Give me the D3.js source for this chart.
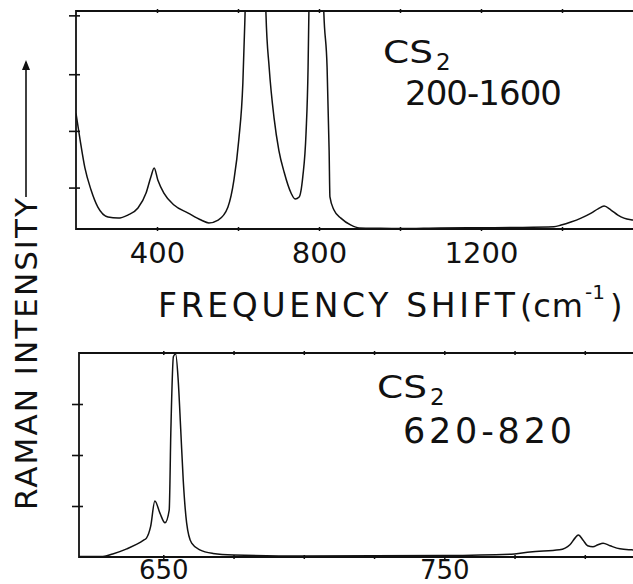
<!DOCTYPE html>
<html>
<head>
<meta charset="utf-8">
<script src="https://cdn.jsdelivr.net/npm/d3@7"></script>
<style>
  body { margin: 0; background: #fff; }
  svg { display: block; }
  text { font-family: "DejaVu Sans", sans-serif; fill: #111; }
</style>
</head>
<body>
<svg id="chart" width="633" height="584"></svg>
<script>
// upper spectrum, 200-1600 cm-1 (intensity in arbitrary units, frame top = 100)
const wideShift = [200, 210, 222, 237, 254, 279, 304, 328, 353, 373, 385, 393, 402, 417, 442, 477, 509, 528, 551, 575, 590, 602, 612, 617, 622, 640, 655, 662, 669, 677, 689, 701, 714, 731, 741, 751, 760, 768, 773, 775, 780, 795, 805, 812, 820, 825, 827, 837, 854, 879, 899, 950, 1000, 1100, 1200, 1300, 1380, 1398, 1422, 1447, 1472, 1489, 1504, 1521, 1538, 1553, 1575, 1600];
const wideIntensity = [53, 41, 28, 18, 10, 5.5, 5, 6.4, 9.6, 16.5, 24, 28, 22.5, 16.5, 11, 7.3, 4.1, 2.8, 4.1, 10, 22.5, 41, 67, 96, 130, 250, 300, 200, 99, 74, 51, 36, 26, 16.5, 13.8, 14.7, 24, 44, 74, 99, 150, 350, 150, 99, 74, 36, 14.7, 8.7, 5, 1.8, 0.5, 0.3, 0.2, 0.5, 0.6, 0.7, 1.0, 1.8, 3.2, 5, 7.3, 9.2, 10.5, 8.7, 6.4, 5, 4.1, 3.5];
const wideXTicks = [400, 600, 800, 1000, 1200, 1400];
const wideXLabels = [400, 800, 1200];
const wideYTicks = [19, 45, 71, 98];

// lower spectrum, 620-820 cm-1
const narrowShift = [620, 628.5, 632, 637, 643, 644, 645.5, 647, 648.8, 650.6, 652.1, 652.7, 653.6, 654.4, 655.3, 656.2, 657.1, 658.3, 660.1, 663, 667.7, 675, 700, 750, 775, 780.5, 791, 794.7, 796.5, 797.7, 799.4, 801, 802.9, 804.7, 806.5, 809, 812.5, 816.7, 820];
const narrowIntensity = [0.01, 0.01, 0.06, 0.16, 0.33, 0.37, 0.6, 1.1, 0.86, 0.67, 0.92, 2.5, 3.93, 3.98, 3.47, 2.5, 1.5, 0.67, 0.27, 0.14, 0.07, 0.04, 0.02, 0.03, 0.06, 0.1, 0.14, 0.24, 0.37, 0.43, 0.33, 0.22, 0.2, 0.24, 0.27, 0.22, 0.16, 0.14, 0.13];
const narrowXTicks = [650, 675, 700, 725, 750, 775, 800];
const narrowXLabels = [650, 750];
const narrowYTicks = [1, 2, 3];

const svg = d3.select("#chart");
svg.append("rect").attr("width", 633).attr("height", 584).attr("fill", "#fff");

function panel(id, xs, ys, shift, intensity, xTicks, xLabels, yTicks, labelY, labelSize) {
  const [x0, x1] = xs.range();
  const [yb, yt] = ys.range();
  const g = svg.append("g");

  g.append("clipPath").attr("id", id)
    .append("rect").attr("x", x0).attr("y", yt).attr("width", x1 - x0).attr("height", yb - yt);

  const line = d3.line()
    .x((d, i) => xs(shift[i]))
    .y(d => ys(d))
    .curve(d3.curveMonotoneX);

  g.append("path")
    .datum(intensity)
    .attr("clip-path", `url(#${id})`)
    .attr("fill", "none")
    .attr("stroke", "#111")
    .attr("stroke-width", 1.5)
    .attr("d", line);

  // frame
  g.append("path")
    .attr("d", `M${x1},${yt}H${x0}V${yb}H${x1}`)
    .attr("fill", "none")
    .attr("stroke", "#111")
    .attr("stroke-width", 1.8);

  // left ticks crossing the axis
  g.append("g")
    .attr("transform", `translate(${x0},0)`)
    .call(d3.axisLeft(ys).tickValues(yTicks).tickSize(7).tickFormat(""))
    .call(a => a.select(".domain").remove())
    .call(a => a.selectAll(".tick line").attr("x1", 4).attr("stroke", "#111").attr("stroke-width", 1.6));

  // bottom and top small ticks
  g.append("g")
    .attr("transform", `translate(0,${yb})`)
    .call(d3.axisBottom(xs).tickValues(xTicks).tickSize(2).tickFormat(""))
    .call(a => a.select(".domain").remove())
    .call(a => a.selectAll(".tick line").attr("y1", -2).attr("stroke", "#111").attr("stroke-width", 1.5));
  g.append("g")
    .attr("transform", `translate(0,${yt})`)
    .call(d3.axisTop(xs).tickValues(xTicks).tickSize(2).tickFormat(""))
    .call(a => a.select(".domain").remove())
    .call(a => a.selectAll(".tick line").attr("y1", 2).attr("stroke", "#111").attr("stroke-width", 1.5));

  // tick labels
  g.append("g")
    .attr("transform", `translate(0,${yb})`)
    .call(d3.axisBottom(xs).tickValues(xLabels).tickSize(0).tickPadding(0).tickFormat(d3.format("d")))
    .call(a => a.select(".domain").remove())
    .call(a => a.selectAll("text")
      .attr("y", labelY)
      .attr("dy", 0)
      .attr("font-size", labelSize)
      .attr("font-family", "DejaVu Sans")
      .attr("fill", "#111"));
}

const xTop = d3.scaleLinear().domain([200, 1600]).range([76, 643]);
const yTop = d3.scaleLinear().domain([0, 100]).range([229, 11]);
const xBot = d3.scaleLinear().domain([620, 820]).range([79, 641]);
const yBot = d3.scaleLinear().domain([0, 4]).range([557, 353]);

panel("clipTop", xTop, yTop, wideShift, wideIntensity, wideXTicks, wideXLabels, wideYTicks, 34, 29);
panel("clipBot", xBot, yBot, narrowShift, narrowIntensity, narrowXTicks, narrowXLabels, narrowYTicks, 22, 26);

// in-panel annotations
function cs2(x, y) {
  svg.append("text").attr("x", x).attr("y", y).attr("font-size", 32)
    .attr("textLength", 50).attr("lengthAdjust", "spacingAndGlyphs").text("CS");
  svg.append("text").attr("x", x + 53).attr("y", y + 7).attr("font-size", 23).text("2");
}
cs2(383, 63);
svg.append("text").attr("x", 405).attr("y", 105).attr("font-size", 34)
  .attr("textLength", 157).attr("lengthAdjust", "spacing").text("200-1600");
cs2(377, 398);
svg.append("text").attr("x", 403).attr("y", 443).attr("font-size", 35)
  .attr("textLength", 169).attr("lengthAdjust", "spacing").text("620-820");

// x title
svg.append("text").attr("x", 158).attr("y", 317).attr("font-size", 33)
  .attr("textLength", 357).attr("lengthAdjust", "spacing").text("FREQUENCY SHIFT");
svg.append("text").attr("x", 520).attr("y", 317).attr("font-size", 32)
  .attr("textLength", 63).attr("lengthAdjust", "spacing").text("(cm");
svg.append("text").attr("x", 585).attr("y", 299).attr("font-size", 20).text("-1");
svg.append("text").attr("x", 610).attr("y", 317).attr("font-size", 32).text(")");

// y title with arrow
svg.append("text")
  .attr("transform", "translate(37,510) rotate(-90)")
  .attr("font-size", 31)
  .attr("textLength", 312).attr("lengthAdjust", "spacing")
  .text("RAMAN INTENSITY");
svg.append("path")
  .attr("d", "M26,197V62")
  .attr("stroke", "#111").attr("stroke-width", 1.6).attr("fill", "none");
svg.append("path")
  .attr("d", "M22,70L26,60L30,70Z")
  .attr("fill", "#111");
</script>
</body>
</html>
